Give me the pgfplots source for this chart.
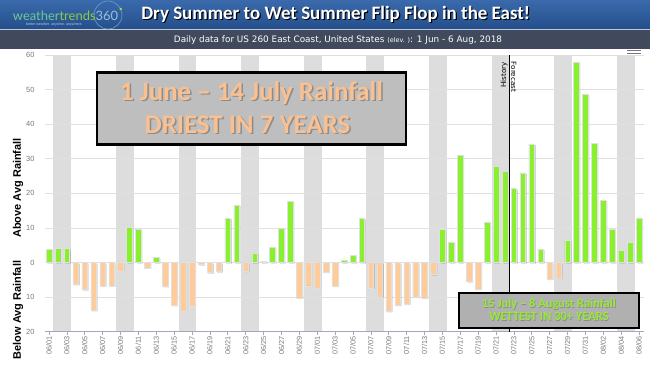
\documentclass[border=0pt]{standalone}
\usepackage{pgfplots}
\pgfplotsset{compat=1.18}
\usepackage{fontspec}
\setmainfont{DejaVu Sans}
\newfontfamily\carlito{Carlito}
\newfontfamily\arial{Liberation Sans}
\newfontfamily\lato{Lato}
\definecolor{hdrTop}{RGB}{58,106,172}
\definecolor{hdrBot}{RGB}{36,78,138}
\definecolor{subband}{RGB}{64,74,92}
\definecolor{barG}{RGB}{136,240,44}
\definecolor{barO}{RGB}{255,204,153}
\definecolor{bandc}{RGB}{221,221,221}
\definecolor{gridc}{RGB}{224,224,224}
\definecolor{tickc}{RGB}{120,120,120}
\definecolor{xaxc}{RGB}{160,170,185}
\definecolor{peach}{RGB}{250,192,144}
\definecolor{limetxt}{RGB}{150,235,50}
\definecolor{box1}{RGB}{190,190,190}
\definecolor{box2}{RGB}{176,176,176}
\definecolor{logoA}{RGB}{110,200,150}
\definecolor{logoB}{RGB}{140,205,70}
\definecolor{logoC}{RGB}{150,190,225}

\pgfplotstableread{
idx val
0 3.8
1 4.2
2 4.0
9 10.1
10 9.5
12 1.5
20 12.8
21 16.6
23 2.8
24 0.3
25 4.4
26 9.9
27 17.7
33 0.8
34 2.0
35 12.8
44 9.5
45 5.8
46 31.0
49 11.7
50 27.9
51 26.4
52 21.4
53 25.9
54 34.2
55 3.9
58 6.5
59 57.8
60 48.6
61 34.4
62 18.0
63 9.6
64 3.6
65 5.8
66 12.9
}\greentab

\pgfplotstableread{
idx val
3 -6.3
4 -7.8
5 -13.8
6 -6.7
7 -6.7
8 -2.4
11 -1.5
13 -6.9
14 -12.4
15 -14.0
16 -12.5
17 -0.6
18 -2.9
19 -2.6
22 -2.5
28 -10.2
29 -6.7
30 -7.3
31 -2.8
32 -6.8
36 -7.3
37 -9.9
38 -14.1
39 -12.3
40 -12.0
41 -10.0
42 -10.3
43 -3.5
47 -5.5
48 -7.7
56 -4.8
57 -4.5
}\orangetab

\begin{document}
\begin{tikzpicture}[x=1bp,y=1bp]
% header bands
\shade[top color=hdrTop, bottom color=hdrBot] (0,336.5) rectangle (650,366);
\fill[subband] (0,317.5) rectangle (650,336.5);
\draw[white!70!hdrBot, line width=0.6bp] (0,336.5) -- (650,336.5);
% logo
\draw[logoC!70!hdrBot, line width=0.6bp] (108,351) circle (14);
\fill[limetxt] (120.7,357) circle (1.3);
\node[anchor=base west, inner sep=0pt] at (12.7,346) {\lato\fontsize{13}{14}\selectfont\textcolor{logoA}{weather}\textcolor{logoB}{trends}\textcolor{logoC}{360}};
\node[anchor=base west, inner sep=0pt, text=logoC!80!white] at (26,340.5) {\arial\fontsize{3.6}{4}\selectfont better weather. anytime. anywhere.};
% title
\node[anchor=base, inner sep=0pt, text=black] at (336.9,345.9) {\carlito\bfseries\fontsize{19}{22}\selectfont Dry Summer to Wet Summer Flip Flop in the East!};
\node[anchor=base, inner sep=0pt, text=white] at (335.7,347) {\carlito\bfseries\fontsize{19}{22}\selectfont Dry Summer to Wet Summer Flip Flop in the East!};
% subtitle
\node[anchor=base, inner sep=0pt, text=white] at (338,324) {\fontsize{8.9}{10}\selectfont Daily data for US 260 East Coast, United States {\fontsize{6.5}{7}\selectfont(elev. )}: 1 Jun - 6 Aug, 2018};
% menu icon
\draw[tickc, line width=1bp] (627,315.5) -- (641,315.5);
\draw[tickc, line width=1bp] (627,313) -- (641,313);

\begin{axis}[
  at={(44.5bp,34.3bp)}, anchor=south west, scale only axis,
  width=599bp, height=276.7bp,
  xmin=-0.5, xmax=66.5, ymin=-20, ymax=60,
  set layers,
  axis lines*=left,
  y axis line style={draw=none},
  x axis line style={draw=xaxc, line width=0.8bp},
  ytick={-20,-10,...,60},
  yticklabels={20,10,0,10,20,30,40,50,60},
  ymajorgrids,
  grid style={draw=gridc, line width=0.8bp},
  ytick style={draw=none},
  xtick={0,2,...,66},
  xticklabels={06/01,06/03,06/05,06/07,06/09,06/11,06/13,06/15,06/17,06/19,06/21,06/23,06/25,06/27,06/29,07/01,07/03,07/05,07/07,07/09,07/11,07/13,07/15,07/17,07/19,07/21,07/23,07/25,07/27,07/29,07/31,08/02,08/04,08/06},
  xtick style={draw=xaxc, line width=0.6bp},
  tick align=outside,
  major tick length=3.5bp,
  x tick label style={rotate=90, anchor=east, font=\arial\fontsize{7.3}{8}\selectfont, text=tickc, inner sep=1bp},
  y tick label style={font=\arial\fontsize{7.5}{8}\selectfont, text=tickc, xshift=-3bp},
  /pgf/number format/assume math mode=true,
  clip=false,
]
\begin{pgfonlayer}{axis background}
\fill[bandc] (axis cs:0.5,-20) rectangle (axis cs:2.5,60);
\fill[bandc] (axis cs:7.5,-20) rectangle (axis cs:9.5,60);
\fill[bandc] (axis cs:14.5,-20) rectangle (axis cs:16.5,60);
\fill[bandc] (axis cs:21.5,-20) rectangle (axis cs:23.5,60);
\fill[bandc] (axis cs:28.5,-20) rectangle (axis cs:30.5,60);
\fill[bandc] (axis cs:35.5,-20) rectangle (axis cs:37.5,60);
\fill[bandc] (axis cs:42.5,-20) rectangle (axis cs:44.5,60);
\fill[bandc] (axis cs:49.5,-20) rectangle (axis cs:51.5,60);
\fill[bandc] (axis cs:56.5,-20) rectangle (axis cs:58.5,60);
\fill[bandc] (axis cs:63.5,-20) rectangle (axis cs:65.5,60);
\end{pgfonlayer}
% shadows
\addplot[ybar, bar width=5.6bp, bar shift=1.2bp, fill=black!50, draw=none, opacity=0.35, yshift=-1bp] table[x=idx,y=val] {\greentab};
\addplot[ybar, bar width=5.6bp, bar shift=1.2bp, fill=black!50, draw=none, opacity=0.35, yshift=-1bp] table[x=idx,y=val] {\orangetab};
% bars
\addplot[ybar, bar width=5.6bp, bar shift=0bp, fill=barG, draw=black!12, line width=0.4bp] table[x=idx,y=val] {\greentab};
\addplot[ybar, bar width=5.6bp, bar shift=0bp, fill=barO, draw=black!12, line width=0.4bp] table[x=idx,y=val] {\orangetab};
% history / forecast
\draw[black, line width=1.5bp] (axis cs:51.5,-20) -- (axis cs:51.5,60);
\node[rotate=90, anchor=south east, inner sep=1.5bp, font=\fontsize{7.2}{8}\selectfont] at (axis cs:51.5,58.5) {History};
\node[rotate=-90, anchor=south west, inner sep=1.5bp, font=\fontsize{7.2}{8}\selectfont] at (axis cs:51.5,58.5) {Forecast};
\end{axis}

% axis titles
\node[rotate=90, inner sep=0pt] at (18,178) {\arial\bfseries\fontsize{11}{12}\selectfont Above Avg Rainfall};
\node[rotate=90, inner sep=0pt] at (18,56) {\arial\bfseries\fontsize{11}{12}\selectfont Below Avg Rainfall};

% text box 1
\fill[box1] (97,221.7) rectangle (406,293.3);
\draw[black, line width=2.5bp] (97,221.7) rectangle (406,293.3);
\node[anchor=base, inner sep=0pt, text=black!45] at (253,264.1) {\carlito\bfseries\fontsize{27}{30}\selectfont 1 June – 14 July Rainfall};
\node[anchor=base, inner sep=0pt, text=peach] at (251.5,265.3) {\carlito\bfseries\fontsize{27}{30}\selectfont 1 June – 14 July Rainfall};
\node[anchor=base, inner sep=0pt, text=black!45] at (249,231.4) {\carlito\bfseries\fontsize{27}{30}\selectfont DRIEST IN 7 YEARS};
\node[anchor=base, inner sep=0pt, text=peach] at (247.5,232.6) {\carlito\bfseries\fontsize{27}{30}\selectfont DRIEST IN 7 YEARS};

% text box 2
\fill[box2] (459,38.3) rectangle (639,73.3);
\draw[black, line width=2bp] (459,38.3) rectangle (639,73.3);
\node[anchor=base, inner sep=0pt, text=black!45] at (549.7,58) {\carlito\bfseries\fontsize{12.5}{14}\selectfont 15 July – 8 August Rainfall};
\node[anchor=base, inner sep=0pt, text=limetxt] at (549,58.7) {\carlito\bfseries\fontsize{12.5}{14}\selectfont 15 July – 8 August Rainfall};
\node[anchor=base, inner sep=0pt, text=black!45] at (549.7,44.6) {\carlito\bfseries\fontsize{12.5}{14}\selectfont WETTEST IN 30+ YEARS};
\node[anchor=base, inner sep=0pt, text=limetxt] at (549,45.3) {\carlito\bfseries\fontsize{12.5}{14}\selectfont WETTEST IN 30+ YEARS};
\pgfresetboundingbox
\path[use as bounding box] (0,0) rectangle (650,366);
\end{tikzpicture}
\end{document}
